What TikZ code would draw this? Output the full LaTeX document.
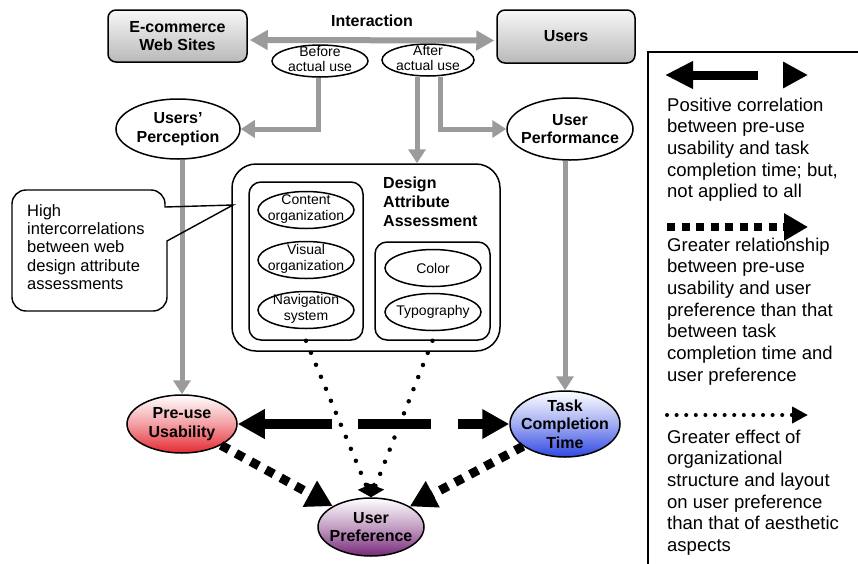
\documentclass[tikz,border=0pt]{standalone}
\usepackage{fontspec}
\setmainfont{Liberation Sans}
\usetikzlibrary{arrows.meta,shapes.geometric}

\definecolor{linkgray}{RGB}{155,155,155}
\definecolor{usabred}{RGB}{228,42,50}
\definecolor{timeblue}{RGB}{48,72,226}
\definecolor{prefpurple}{RGB}{120,40,122}

\tikzset{
  lbl/.style={font=\fontsize{16}{18.5}\selectfont\bfseries, align=center, inner sep=0pt},
  small/.style={font=\fontsize{14}{15.5}\selectfont, align=center, inner sep=0pt},
  note/.style={font=\fontsize{16.5}{18.3}\selectfont, align=left, inner sep=0pt, anchor=north west},
  legendtext/.style={font=\fontsize{18.5}{21.7}\selectfont, align=left, inner sep=0pt, anchor=north west},
  oval/.style={ellipse, draw, line width=1.5pt, fill=white, inner sep=0pt},
  sitebox/.style={rectangle, rounded corners=8pt, draw, line width=1.5pt,
    top color=gray!6, bottom color=gray!55, minimum width=139pt, minimum height=52pt},
  framebox/.style={rectangle, draw, line width=1.5pt},
  flow/.style={draw=linkgray, line width=5pt, -{Triangle[length=14pt,width=17pt]}},
  bar/.style={line width=9.5pt},
  bigtip/.style={-{Triangle[length=27pt,width=28pt]}},
  sqdash/.style={line width=9pt, dash pattern=on 9pt off 8pt, -{Triangle[length=26pt,width=28pt]}},
  dotline/.style={line width=4.5pt, line cap=round, dash pattern=on 0pt off 13pt, -{Triangle[length=12pt,width=18pt]}},
}

\begin{document}
\begin{tikzpicture}[x=1pt,y=-1pt]
\clip (0,0) rectangle (858,563);
\fill[white] (0,0) rectangle (858,563);

% --- top row: web sites, users and the interaction between them
\node[sitebox, lbl] (shop) at (177.5,36) {E-commerce\\Web Sites};
\node[sitebox, lbl, minimum width=138pt, minimum height=53pt] (users) at (566,36.5) {Users};
\node[lbl] (interlbl) at (372,21) {Interaction};
\node[oval, minimum width=96pt, minimum height=32pt] (before) at (320,61) {};
\node[small] (beforetxt) at (320,59) {Before\\actual use};
\node[oval, minimum width=92pt, minimum height=32pt] (after) at (428,60) {};
\node[small] (aftertxt) at (428,58) {After\\actual use};

% --- perception / performance
\node[oval, minimum width=124pt, minimum height=60pt] (perc) at (178,129) {};
\node[lbl] (perctxt) at (178,129) {Users'\\Perception};
\node[oval, minimum width=126pt, minimum height=62pt] (perf) at (570,129) {};
\node[lbl] (perftxt) at (570,129) {User\\Performance};

% --- design attribute assessment
\node[framebox, rounded corners=24pt, minimum width=268pt, minimum height=187pt] (design) at (366,257.5) {};
\node[lbl, align=left, anchor=west, font=\fontsize{16}{19}\selectfont\bfseries] (designtitle) at (383,202) {Design\\Attribute\\Assessment};
\node[framebox, rounded corners=12pt, minimum width=114pt, minimum height=158pt] (orgbox) at (306,261) {};
\node[framebox, rounded corners=12pt, minimum width=115pt, minimum height=98pt] (aesbox) at (432.5,291) {};

\node[oval, minimum width=96pt, minimum height=37pt] (content) at (306,210) {};
\node[small] (contenttxt) at (306,209) {Content\\organization};
\node[oval, minimum width=96pt, minimum height=37pt] (visual) at (306,260) {};
\node[small] (visualtxt) at (306,259) {Visual\\organization};
\node[oval, minimum width=96pt, minimum height=37pt] (navig) at (306,310) {};
\node[small] (navigtxt) at (306,309) {Navigation\\system};
\node[oval, minimum width=96pt, minimum height=37pt] (color) at (433,268) {};
\node[small] (colortxt) at (433,268) {Color};
\node[oval, minimum width=96pt, minimum height=37pt] (typo) at (433,312) {};
\node[small] (typotxt) at (433,312) {Typography};

% --- outcome measures
\node[oval, minimum width=110pt, minimum height=58pt, top color=white, bottom color=usabred, middle color=usabred!45] (pre) at (182,424) {};
\node[lbl] (pretxt) at (182,424) {Pre-use\\Usability};
\node[oval, minimum width=110pt, minimum height=66pt, top color=white, bottom color=timeblue, middle color=timeblue!45] (task) at (565,424) {};
\node[lbl] (tasktxt) at (565,424) {Task\\Completion\\Time};
\node[oval, minimum width=106pt, minimum height=58pt, top color=white, bottom color=prefpurple, middle color=prefpurple!45] (pref) at (371,527) {};
\node[lbl] (preftxt) at (371,527) {User\\Preference};

% --- gray flow arrows
\draw[draw=linkgray, line width=6pt, {Triangle[length=18pt,width=19pt]}-{Triangle[length=18pt,width=19pt]},
      shorten <=2pt, shorten >=2pt] ([yshift=-4pt]shop.east) -- ([yshift=-4pt]users.west);
\draw[flow] ([xshift=-2pt]before.south) |- (perc.east);
\draw[flow] ([xshift=-11pt]after.south) -- ([xshift=-11pt]after.south |- design.north);
\draw[flow] ([xshift=12pt]after.south) |- (perf.west);
\draw[flow] (pre.north |- perc.south) -- (pre.north);
\draw[flow] (task.north |- perf.south) -- (task.north);

% --- callout
\draw[line width=1.4pt] (233,205) -- (167,241)
   [rounded corners=14pt] -- (167,311) -- (12,311) -- (12,190) -- (165,190)
   [sharp corners] -- (165,207) -- cycle;
\node[note] (calltxt) at (27,204) {High\\intercorrelations\\between web\\design attribute\\assessments};

% --- relations between outcome measures
\coordinate (b1) at (332,424);
\coordinate (b2) at (358,424);
\coordinate (b3) at (431,424);
\coordinate (b4) at (458,424);
\draw[bar, bigtip] (b1) -- (pre);
\draw[bar] (b2) -- (b3);
\draw[bar, bigtip] (b4) -- (task);
\draw[sqdash] (pre) -- (pref);
\draw[sqdash] (task) -- (pref);
\draw[dotline] (orgbox.south) -- (pref.north);
\draw[dotline] (aesbox.south) -- (pref.north);

% --- legend
\draw[line width=1.4pt] (648,52) rectangle (890,600);
\coordinate (l1a) at (758,75);
\coordinate (l1b) at (665,75);
\coordinate (l1c) at (783,75);
\coordinate (l1d) at (808,75);
\draw[line width=9pt, -{Triangle[length=28pt,width=26pt]}] (l1a) -- (l1b);
\draw[line width=9pt, -{Triangle[length=25pt,width=25pt]}] (l1c) -- (l1d);
\node[legendtext] (leg1) at (667,97.5) {Positive correlation\\between pre-use\\usability and task\\completion time; but,\\not applied to all};
\coordinate (l2a) at (667,227);
\coordinate (l2b) at (808,227);
\draw[line width=8pt, dash pattern=on 8pt off 6.5pt, -{Triangle[length=24pt,width=26pt]}] (l2a) -- (l2b);
\node[legendtext] (leg2) at (667,237.5) {Greater relationship\\between pre-use\\usability and user\\preference than that\\between task\\completion time and\\user preference};
\coordinate (l3a) at (667,415);
\coordinate (l3b) at (808,415);
\draw[line width=4pt, line cap=round, dash pattern=on 0pt off 9.6pt, -{Triangle[length=16pt,width=16pt]}] (l3a) -- (l3b);
\node[legendtext] (leg3) at (667,429.5) {Greater effect of\\organizational\\structure and layout\\on user preference\\than that of aesthetic\\aspects};
\end{tikzpicture}
\end{document}
